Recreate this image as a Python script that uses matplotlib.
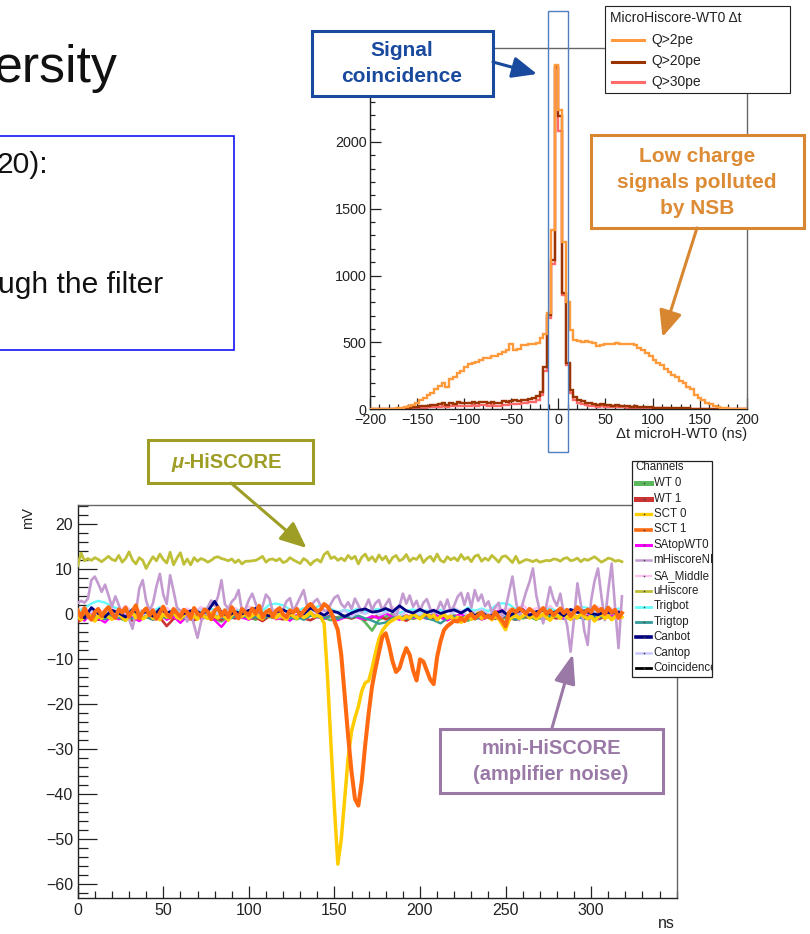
import numpy as np
import matplotlib
matplotlib.use("Agg")
import matplotlib.pyplot as plt
from matplotlib.patches import Rectangle
from matplotlib.ticker import MultipleLocator, FixedLocator, FuncFormatter

plt.rcParams['font.family'] = ['Liberation Sans', 'DejaVu Sans']
plt.rcParams['axes.unicode_minus'] = True

# ---------------------------------------------------------------------------
# Time difference histogram (4 ns bins from -200 to 200 ns)
# ---------------------------------------------------------------------------
dt_edges = np.arange(-200, 201, 4)

q2pe_counts = [0, 0, 0, 0, 0, 2, 4, 6, 10, 15,
               22, 35, 50, 68, 88, 110, 125, 150, 175, 198,
               165, 225, 245, 268, 290, 320, 340, 348, 352, 368,
               380, 385, 396, 402, 415, 425, 445, 488, 445, 448,
               478, 482, 490, 492, 495, 530,
               560, 720, 1340, 2577, 2240, 1250, 800, 590,
               520, 510, 505, 512, 505, 498, 470, 478, 490, 492,
               488, 495, 490, 485, 492, 488, 478, 460, 440, 418,
               395, 365, 350, 330, 300, 282, 255, 240, 215, 200,
               170, 150, 108, 88, 68, 50, 40, 28, 18, 12,
               8, 5, 3, 2, 1, 0]

q20pe_counts = [0, 0, 0, 0, 0, 0, 2, 3, 5, 8,
                10, 14, 18, 22, 25, 28, 32, 30, 38, 45,
                35, 48, 40, 52, 45, 50, 48, 55, 50, 52,
                58, 50, 55, 48, 45, 60, 55, 65, 70, 62,
                72, 70, 78, 85, 100, 130,
                317, 704, 1115, 2565, 2190, 870, 345, 142,
                95, 70, 60, 50, 45, 40, 35, 38, 30, 32,
                28, 30, 25, 26, 22, 20, 22, 18, 16, 15,
                14, 12, 12, 10, 10, 9, 8, 8, 7, 6,
                6, 5, 4, 4, 3, 3, 2, 2, 2, 1,
                1, 1, 0, 0, 0, 0]

q30pe_counts = [0, 0, 0, 0, 0, 0, 1, 2, 3, 4,
                5, 7, 9, 11, 13, 15, 17, 16, 20, 24,
                18, 26, 22, 28, 24, 27, 26, 30, 28, 30,
                32, 28, 30, 27, 26, 34, 32, 38, 42, 38,
                45, 46, 52, 58, 72, 105,
                290, 680, 1085, 2550, 2080, 855, 330, 120,
                70, 48, 40, 32, 28, 24, 20, 22, 18, 18,
                16, 17, 14, 14, 12, 11, 12, 10, 9, 8,
                8, 7, 7, 6, 6, 5, 5, 4, 4, 3,
                3, 3, 2, 2, 2, 2, 1, 1, 1, 1,
                0, 0, 0, 0, 0, 0]

hist_labels = ['Q>2pe', 'Q>20pe', 'Q>30pe']
hist_colors = ['#ff9a3c', '#993300', '#ff6b6b']
count_ticks = [0, 500, 1000, 1500, 2000, 2500]

# ---------------------------------------------------------------------------
# Waveforms (mV), 2 ns and 4 ns sampling
# ---------------------------------------------------------------------------
t_fine = np.arange(0, 320, 2)
t_coarse = np.arange(0, 320, 4)

uhiscore_mv = [10.8, 13.6, 11.9, 12.4, 12.0, 12.6, 12.2, 11.7, 12.3, 12.9,
               12.2, 11.9, 13.1, 11.6, 12.4, 13.9, 12.1, 11.2, 12.6, 12.0,
               10.2, 11.6, 12.8, 11.9, 13.4, 12.2, 11.4, 13.8, 11.0, 12.5,
               13.7, 11.1, 12.3, 11.0, 12.6, 11.8, 12.4, 12.1, 11.6, 12.0,
               12.6, 12.8, 12.4, 12.2, 11.9, 12.3, 11.5, 12.1, 11.2, 11.8,
               11.8, 11.9, 12.0, 12.4, 12.9, 11.6, 12.2, 12.3, 11.9, 12.4,
               11.5, 11.8, 12.6, 12.1, 11.7, 11.3, 12.4, 11.9, 11.0, 11.8,
               12.2, 11.6, 13.3, 13.9, 12.4, 12.8, 12.0, 12.5, 11.9, 13.1,
               12.3, 12.9, 11.2, 12.7, 13.4, 12.0, 12.8, 11.7, 13.2, 12.1,
               12.9, 11.4, 12.6, 13.1, 11.9, 12.3, 13.3, 11.8, 12.5, 12.2,
               13.2, 11.5, 12.4, 12.9, 11.8, 13.4, 12.0, 11.6, 12.8, 12.1,
               12.6, 11.9, 13.3, 12.2, 12.7, 11.7, 12.9, 13.2, 11.8, 12.5,
               12.0, 13.1, 12.4, 11.6, 12.8, 13.0, 12.3, 11.5, 12.9, 11.4,
               11.8, 12.2, 12.0, 11.7, 12.1, 11.6, 11.8, 12.0, 11.9, 12.3,
               12.2, 11.8, 12.4, 12.6, 11.9, 12.1, 12.5, 11.7, 12.3, 12.0,
               12.4, 12.8, 12.2, 11.6, 12.0, 12.5, 12.3, 11.8, 12.0, 11.7]

mhiscore_mv = [2.5, 3.0, 2.6, 3.5, 7.6, 8.4, 6.8, 5.0, 6.6, 4.2,
               1.7, 4.0, 2.1, -0.5, 1.2, -1.0, -3.2, 0.5, 5.8, 7.6,
               3.0, 0.8, 2.5, 6.2, 9.0, 4.4, 2.3, 8.7, 5.2, 1.5,
               0.8, 0.2, -1.6, 0.5, -2.4, -5.2, -1.8, 0.6, 1.6, 3.1,
               1.9, 4.0, 7.6, 2.3, 1.2, 2.8, 3.6, 5.4, 0.7, 1.2,
               3.2, 4.6, 2.4, 0.0, 1.8, 4.4, 3.5, 0.6, 0.3, -0.8,
               1.0, 2.9, 3.6, 0.7, 2.2, 3.8, 5.4, 2.0, 1.5, 2.8,
               3.4, 1.9, 0.8, 0.7, 2.4, 3.7, 4.2, 2.3, 1.5, 2.7,
               1.2, 3.5, 2.0, 0.6, 1.6, 3.3, 1.0, 2.5, 3.2, 0.9,
               2.2, 3.4, 0.5, -0.4, 1.8, 4.6, 2.4, 4.2, 1.7, 3.0,
               0.8, 2.6, 3.4, 1.2, -0.2, 0.9, 2.8, 1.1, 3.3, 0.6,
               2.0, 3.9, 4.8, 2.1, 4.7, 1.5, 5.4, 3.0, 4.4, 1.8,
               2.9, 0.4, 1.6, 2.6, -0.6, 1.3, 4.9, 8.4, 3.2, -1.3,
               2.4, 5.0, 7.2, 10.2, 4.1, 0.8, -2.0, 2.3, 6.1, 3.4,
               1.9, 4.6, 0.2, -2.5, -8.3, -1.0, 6.9, 2.2, -3.6, -6.8,
               3.1, 7.4, 10.2, 4.0, -1.3, 5.3, 11.3, 1.5, -7.5, 4.0]

sct0_mv = [-0.4, -1.2, -0.6, 0.3, -0.8, -1.5, -0.2, -0.9, 0.4, -0.6,
           -1.1, -0.3, 0.2, -0.7, -1.3, -0.4, 0.5, -0.8, -0.2, -1.0,
           -0.5, 0.3, -0.9, -0.3, -1.2, 0.1, -0.6, -0.4, 0.6, -0.7,
           -1.0, -0.2, 0.4, -0.8, -0.3, -1.1, 0.2, -0.5, -0.9, 0.3,
           -0.4, -0.8, 0.1, -0.6, -1.3, -0.2, 0.5, -0.7, -0.4, 0.2,
           -0.9, -0.3, 0.3, -0.6, -1.0, 0.4, -0.5, -0.2, -0.8, 0.1,
           -0.6, -1.1, 0.2, -0.4, -0.9, 0.3, -0.7, -0.3, 0.5, -0.5,
           -0.2, -0.6, -2.0, -14.0, -29.0, -43.0, -55.5, -50.0, -41.0, -32.0,
           -26.0, -23.0, -20.5, -17.0, -15.2, -14.8, -12.0, -8.5, -5.5, -3.6,
           -2.6, -1.8, -1.3, -0.9, -0.6, -1.1, -0.4, -0.8, 0.2, -0.5,
           -1.0, -0.3, 0.4, -0.7, -0.2, -1.2, -0.5, 0.1, -0.8, -0.4,
           -1.4, -0.6, -1.8, -0.9, -0.3, -1.1, -0.5, 0.3, -0.9, -0.4,
           -0.6, -1.2, -0.4, -1.0, -2.2, -3.4, -1.3, -0.6, -0.2, -0.9,
           -0.4, 0.2, -0.8, -0.3, -1.0, -0.5, 0.1, -0.7, -1.3, -0.4,
           -0.2, -0.9, 0.3, -0.6, -1.1, -0.3, -0.8, 0.2, -0.5, -1.0,
           -0.4, -1.5, -0.6, 0.2, -0.9, -0.3, -1.2, -0.5, 0.1, -0.6]

sct1_mv = [0.9, -0.6, 1.4, -0.3, -1.2, 0.5, 1.2, -0.4, 0.8, 1.6,
           0.2, -0.8, 1.1, 0.4, 1.5, -0.5, 0.7, 2.0, -0.9, 0.6,
           1.3, -0.2, 0.9, -1.0, 0.4, 1.7, 0.1, -0.7, 1.2, 0.3,
           -0.5, 1.0, 0.5, -0.8, 1.4, 0.2, -0.4, 1.1, 0.6, -1.1,
           0.8, 1.5, -0.3, 0.9, -0.6, 1.6, 0.3, -0.9, 1.2, 0.4,
           -0.2, 1.3, 0.1, 1.9, -0.7, 0.5, 1.0, -0.5, 0.8, 1.4,
           0.0, -0.6, 0.9, 0.4, 1.2, -0.3, 0.7, 1.6, 2.3, 1.5,
           0.6, 1.1, 2.3, 1.7, 0.5, -1.5, -3.5, -9.0, -18.0, -27.0,
           -35.0, -41.0, -42.5, -37.0, -29.0, -22.0, -16.0, -12.0, -8.5, -5.0,
           -4.2, -7.0, -10.5, -12.8, -12.0, -9.5, -7.5, -9.0, -12.5, -14.7,
           -10.0, -10.5, -12.5, -14.5, -15.5, -9.5, -6.0, -3.5, -2.6, -2.0,
           -1.4, -1.6, -0.8, -1.5, -0.5, 0.1, -0.9, -0.2, 0.4, -0.6,
           -0.3, -0.9, 0.5, -0.6, -1.4, -2.6, 0.4, 1.1, 0.5, 1.3,
           0.8, 0.2, 1.2, 0.6, -0.3, 0.7, 1.4, 0.1, 0.9, -0.2,
           0.6, 1.3, 0.3, 1.0, -0.4, 0.5, 1.6, 0.8, 0.2, 1.1,
           0.5, 1.8, 0.7, 1.2, 0.1, 1.5, 0.4, 1.0, -0.8, 0.3]

wt0_mv = [-0.4, -0.9, 0.3, -1.2, -0.5, 0.2, -0.8, -1.4, 0.6, -0.3,
          -0.7, 0.4, -1.1, -0.2, -0.9, 0.1, -0.6, -1.3, 0.5, -0.4,
          -1.0, -1.6, -0.3, 0.2, -0.8, -0.5, -1.2, 0.3, -0.6, -0.9,
          -0.2, -0.7, -1.1, -0.4, 0.2, -0.5, -0.8, -1.3, -0.6, -0.3,
          -0.9, -0.4, -1.8, -3.6, -1.2, -0.5, 0.1, -0.7, -0.3, -1.0,
          -0.6, 0.2, -0.9, -0.4, -1.1, -0.2, -0.7, -1.4, -0.5, 0.3,
          -0.8, -0.3, -1.0, -0.6, -0.2, -0.9, -0.5, -1.2, 0.1, -0.7,
          -0.4, -1.0, -0.3, -0.8, -0.5, 0.2, -1.1, -0.6, -0.3, -0.8]

wt1_mv = [-1.6, -0.9, -0.4, -1.2, -0.7, -0.3, -1.0, -0.6, -1.4, -0.8,
          -0.5, -1.1, -0.7, -2.6, -1.0, -0.4, -0.9, -1.3, -0.6, -0.2,
          -0.8, -1.2, -0.5, -0.9, -0.3, -1.0, -0.7, -1.5, -0.4, -0.8,
          -1.1, -0.6, -0.3, -0.9, -1.3, -0.5, -0.8, -0.2, -1.0, -0.6,
          -0.9, -0.4, -1.2, -0.7, -0.3, -1.1, -0.6, -0.9, -1.4, -0.5,
          -0.8, -0.2, -1.0, -0.6, -1.3, -0.4, -0.9, -0.7, -0.3, -1.1,
          -0.6, -1.0, -0.4, -0.8, -1.2, -0.5, -0.7, -0.3, -1.0, -0.6,
          -0.9, -0.4, -1.1, -0.7, -0.2, -0.8, -1.0, -0.5, -0.7, -0.6]

satop_mv = [-0.6, -1.4, 0.3, -0.9, -1.8, -0.2, -1.1, 0.4, -0.7, -1.5,
            -0.3, -0.8, 0.2, -1.2, -0.5, -1.9, -0.4, 0.5, -1.0, -0.6,
            -1.3, -2.8, -0.9, 0.1, -0.7, -1.2, -0.3, -0.8, 0.3, -1.1,
            -0.5, -1.4, -0.2, -0.9, 0.4, -0.6, -1.0, -0.3, -1.3, -0.7,
            0.2, -0.8, -1.1, -0.4, -0.9, 0.3, -0.6, -1.2, -0.2, -0.8,
            -0.4, -1.0, 0.2, -0.7, -1.3, -0.5, 0.1, -0.9, -0.3, -1.1,
            -0.6, 0.6, 1.0, -0.4, 0.8, 1.2, -0.2, 0.5, -0.8, 0.9,
            -0.3, -0.9, 0.4, -0.6, 0.7, -0.4, -1.0, 0.3, -0.5, 0.2]

samiddle_mv = [0.8, 1.6, 0.4, 1.1, 0.2, 1.4, 0.7, 1.9, 0.5, 1.0,
               0.3, 1.2, 0.6, 1.5, 0.1, 0.9, 1.3, 0.4, 1.7, 0.6,
               1.1, 0.2, 0.8, 1.4, 0.5, 1.8, 0.7, 1.0, 0.3, 1.2,
               0.9, 0.4, 1.5, 0.6, 1.1, 0.2, 0.8, 1.3, 0.5, 1.0,
               0.7, 1.4, 0.3, 0.9, 1.2, 0.6, 1.6, 0.4, 1.0, 0.8,
               1.3, 0.5, 1.1, 0.2, 0.9, 1.5, 0.6, 1.2, 0.4, 1.0,
               0.7, 1.8, 0.5, 1.3, 0.9, 2.2, 0.6, 1.4, 0.8, 1.9,
               0.4, 1.2, 0.7, 1.6, 0.5, 1.1, 1.7, 0.6, 1.3, 0.9]

trigbot_mv = [0.6, 1.4, 2.4, 3.0, 2.6, 1.8, 1.2, 0.5, 1.0, 0.4,
              1.3, 0.7, 1.6, 0.3, 1.1, 0.8, 0.2, 1.2, 0.6, 1.5,
              0.9, 0.4, 1.3, 0.7, 1.0, 0.3, 1.4, 0.8, 2.2, 2.4,
              2.0, 1.1, 0.6, 1.4, 0.9, 1.7, 2.3, 1.2, 0.5, 1.0,
              0.7, 1.3, 0.4, 0.9, 1.2, 0.6, 1.0, 0.3, 0.8, 1.1,
              0.5, 0.9, 0.2, 1.0, 0.6, 1.2, 0.4, 1.5, 0.8, 1.3,
              0.7, 1.9, 2.5, 2.2, 1.1, 0.6, 1.0, 0.4, 0.9, 1.3,
              0.7, 1.1, 0.5, 1.4, 1.6, 1.2, 0.8, 1.0, 0.6, 1.3]

trigtop_mv = [-0.4, -0.9, -0.2, -0.7, -1.1, -0.3, -0.8, -0.5, -1.0, -0.2,
              -0.6, -1.2, -0.4, -0.8, -0.1, -0.7, -1.0, -0.3, -0.6, -0.9,
              -0.2, -0.7, -1.1, -0.5, -0.3, -0.8, -0.6, -1.0, -0.4, -0.7,
              -0.2, -0.9, -0.5, -1.2, -0.3, -0.6, -0.8, -0.4, -1.0, -0.5,
              -0.7, -0.3, -0.9, -1.4, -2.1, -1.8, -0.8, -0.4, -1.0, -0.6,
              -0.3, -0.9, -1.3, -2.0, -0.9, -0.5, -0.8, -0.3, -1.1, -0.6,
              -0.4, -0.9, -0.2, -0.7, -1.2, -0.5, -0.3, -0.8, -1.0, -0.4,
              -0.6, -0.2, -0.9, -0.5, -1.1, -0.3, -0.7, -0.4, -0.8, -0.5]

canbot_mv = [0.4, -0.8, 1.5, 0.2, -0.5, 0.9, 0.3, -0.6, 1.1, 0.0,
             0.6, -0.4, 1.2, 0.3, 0.8, -0.2, 0.5, 1.0, 0.2, 0.7,
             2.9, 0.4, -0.3, 0.6, 0.1, 0.9, 1.3, 0.2, -0.4, 0.5,
             1.0, 0.3, 0.7, 0.1, 1.4, 0.6, -0.2, 0.8, 0.4, -0.5,
             0.3, 0.9, 1.2, 0.5, 0.7, 1.3, 0.6, 1.9, 0.8, 0.3,
             1.1, 0.4, 0.9, 0.2, 0.7, 1.0, 0.3, 1.2, -0.3, 0.5,
             -0.6, 0.2, 0.8, -0.4, 0.5, 1.0, -0.2, 0.6, 0.9, 0.1,
             0.7, -0.3, 1.1, 0.4, 0.8, 0.2, -0.1, 0.6, 0.3, 0.5]

cantop_mv = [0.2, -0.6, 0.9, -0.2, 0.5, 1.1, -0.4, 0.3, 0.8, -0.7,
             0.4, 1.0, -0.3, 0.6, 0.1, -0.8, 0.7, 0.3, 1.2, -0.1,
             0.5, -0.5, 0.9, 0.2, -0.4, 0.6, 1.1, -0.2, 0.4, 0.8,
             -0.6, 0.3, 0.7, -0.1, 1.0, 0.4, -0.3, 0.6, 0.2, 0.9,
             -0.5, 0.5, 0.1, 0.8, -0.2, 0.4, 1.0, -0.4, 0.7, 0.3,
             -0.1, 0.6, 0.9, 0.2, -0.5, 0.5, 0.8, -0.3, 0.4, 1.1,
             0.0, 0.7, -0.4, 0.6, 0.3, 0.9, -0.2, 0.5, 1.0, 0.1,
             0.6, -0.3, 0.8, 0.4, -0.1, 0.7, 0.2, 0.9, 0.3, 0.5]

channel_names = ['WT 0', 'WT 1', 'SCT 0', 'SCT 1', 'SAtopWT0', 'mHiscoreNI',
                 'SA_Middle', 'uHiscore', 'Trigbot', 'Trigtop', 'Canbot',
                 'Cantop', 'Coincidence']
channel_colors = ['#5cb85c', '#cc3333', '#ffcc00', '#ff6a10', '#ff00ff', '#c39bd0',
                  '#ffc0f2', '#bfbf38', '#66ffff', '#339999', '#000080',
                  '#c8c8ff', '#000000']

# ---------------------------------------------------------------------------
W, H = 810, 934
fig = plt.figure(figsize=(W / 100, H / 100), dpi=100)


def rect(l, t, r, b):
    return [l / W, 1 - b / H, (r - l) / W, (b - t) / H]


def style_frame(ax):
    for side in ('left', 'bottom'):
        ax.spines[side].set_color('#222222')
        ax.spines[side].set_linewidth(1.0)
    for side in ('top', 'right'):
        ax.spines[side].set_color('#666666')
        ax.spines[side].set_linewidth(1.0)


# --- histogram panel --------------------------------------------------------
axh = fig.add_axes(rect(370, 48.3, 746.7, 409.3))
hist_series = [q30pe_counts, q20pe_counts, q2pe_counts]
hist_cols = [hist_colors[2], hist_colors[1], hist_colors[0]]
for z, (vals, col) in enumerate(zip(hist_series, hist_cols)):
    axh.stairs(vals, dt_edges, color=col, lw=1.7, zorder=2 + z)
axh.set_xlim(-200, 200)
axh.set_ylim(0, 2700)
axh.xaxis.set_major_locator(MultipleLocator(50))
axh.xaxis.set_minor_locator(MultipleLocator(10))
axh.yaxis.set_major_locator(FixedLocator(count_ticks))
axh.yaxis.set_major_formatter(FuncFormatter(lambda v, p: '' if v > 2000 else f'{v:.0f}'))
axh.yaxis.set_minor_locator(MultipleLocator(100))
axh.tick_params(which='both', direction='in', top=False, right=False,
                width=0.9, labelsize=10.4, colors='#222222')
axh.tick_params(which='major', length=7.9)
axh.tick_params(which='minor', length=3.8)
axh.tick_params(axis='y', pad=2.4)
axh.tick_params(axis='x', pad=3.0)
style_frame(axh)

# --- waveform panel ---------------------------------------------------------
axw = fig.add_axes(rect(77.7, 505, 676.7, 898.3))
coarse = {'WT 0': wt0_mv, 'WT 1': wt1_mv, 'SAtopWT0': satop_mv,
          'SA_Middle': samiddle_mv, 'Trigbot': trigbot_mv, 'Trigtop': trigtop_mv,
          'Cantop': cantop_mv, 'Canbot': canbot_mv}
fine = {'mHiscoreNI': mhiscore_mv, 'uHiscore': uhiscore_mv,
        'SCT 0': sct0_mv, 'SCT 1': sct1_mv}
cmap = dict(zip(channel_names, channel_colors))
draw_order = [('WT 0', 1.9), ('WT 1', 1.9), ('SAtopWT0', 1.7), ('SA_Middle', 1.6),
              ('Trigbot', 1.7), ('Trigtop', 1.7), ('Cantop', 1.7),
              ('mHiscoreNI', 1.9), ('uHiscore', 2.0), ('SCT 0', 2.5),
              ('Canbot', 2.0), ('SCT 1', 2.9)]
for z, (name, lw) in enumerate(draw_order):
    if name in fine:
        axw.plot(t_fine, fine[name], color=cmap[name], lw=lw, zorder=2 + z)
    else:
        axw.plot(t_coarse, coarse[name], color=cmap[name], lw=lw, zorder=2 + z)
axw.set_xlim(0, 350)
axw.set_ylim(-63.1, 24.3)
axw.xaxis.set_major_locator(FixedLocator(list(range(0, 301, 50))))
axw.xaxis.set_minor_locator(MultipleLocator(10))
axw.yaxis.set_major_locator(MultipleLocator(10))
axw.yaxis.set_minor_locator(MultipleLocator(2))
axw.tick_params(which='both', direction='in', top=False, right=False,
                width=0.9, labelsize=11.5, colors='#222222')
axw.tick_params(axis='y', which='major', length=13.7, pad=3.4)
axw.tick_params(axis='y', which='minor', length=7.2)
axw.tick_params(axis='x', which='major', length=8.6, pad=3.4)
axw.tick_params(axis='x', which='minor', length=5.0)
style_frame(axw)

# --- overlay for slide text, callouts and legends ----------------------------
ov = fig.add_axes([0, 0, 1, 1], zorder=10)
ov.set_xlim(0, W)
ov.set_ylim(H, 0)
ov.axis('off')
ov.patch.set_alpha(0)

# slide title and text box
ov.text(-6, 82, 'ersity', fontsize=37.4, va='baseline', ha='left', color='#111111')
ov.add_patch(Rectangle((-5, 135.5), 238.5, 214, fill=False, ec='#1414f0', lw=1.2))
ov.text(-3, 173, '20):', fontsize=21.6, va='baseline', ha='left', color='#111111')
ov.text(-2, 293, 'ugh the filter', fontsize=21.6, va='baseline', ha='left', color='#111111')

# axis titles
ov.text(746.7, 434, 'Δt microH-WT0 (ns)', fontsize=10.6, ha='right', va='center',
        color='#222222')
ov.text(28, 518, 'mV', fontsize=10.5, rotation=90, ha='center', va='center',
        color='#222222')
ov.text(675, 924, 'ns', fontsize=11.5, ha='right', va='center', color='#222222')

# histogram legend
ov.add_patch(Rectangle((604.5, 6), 185, 86.7, fc='white', ec='#222222', lw=0.8))
ov.text(610, 18.5, 'MicroHiscore-WT0 Δt', fontsize=10, va='center', color='#222222')
for lab, col, y in zip(hist_labels, hist_colors, [40, 61.5, 82]):
    ov.plot([612, 644], [y, y], color=col, lw=2.2)
    ov.text(651, y, lab, fontsize=10, va='center', color='#222222')

# channel legend
ov.add_patch(Rectangle((632, 461), 80, 216, fc='white', ec='#222222', lw=0.9))
clip = Rectangle((632, 455), 80, 230, transform=ov.transData)
t = ov.text(635, 467, 'Channels', fontsize=8.3, va='center', color='#222222', clip_on=True)
t.set_clip_path(clip)
legend_lw = [3.6, 3.6, 2.4, 2.6, 2.2, 1.8, 1.6, 2.0, 2.0, 2.0, 2.6, 1.8, 2.0]
for i, (name, col) in enumerate(zip(channel_names, channel_colors)):
    y = 483.3 + i * 15.4
    ov.plot([636, 651], [y, y], color=col, lw=legend_lw[i])
    ov.plot([643.5], [y], marker='o', ms=1.2, color='#444444', mew=0)
    t = ov.text(653.5, y, name, fontsize=8.3, va='center', color='#222222', clip_on=True)
    t.set_clip_path(clip)

# callout: signal coincidence
blue = '#1a4a9e'
ov.add_patch(Rectangle((311.5, 30.5), 181.5, 65.5, fc='white', ec=blue, lw=2.2))
ov.text(402, 50, 'Signal', fontsize=15, fontweight='bold', color=blue,
        ha='center', va='center')
ov.text(402, 76, 'coincidence', fontsize=15, fontweight='bold', color=blue,
        ha='center', va='center')
ov.annotate('', xy=(537, 74), xytext=(493, 62),
            arrowprops=dict(arrowstyle='-|>,head_length=1.5,head_width=0.65',
                            mutation_scale=10, lw=2.2, color=blue,
                            shrinkA=0, shrinkB=0))
ov.add_patch(Rectangle((548, 11), 20, 441, fill=False, ec='#4f7fbf', lw=1.0))

# callout: low charge signals
orange = '#d8862f'
ov.add_patch(Rectangle((590.5, 134.5), 213, 93.5, fc='white', ec=orange, lw=2.2))
for txt, y in zip(['Low charge', 'signals polluted', 'by NSB'], [156, 182, 208]):
    ov.text(697, y, txt, fontsize=15, fontweight='bold', color='#dd8b35',
            ha='center', va='center')
ov.annotate('', xy=(662.5, 337), xytext=(697, 228),
            arrowprops=dict(arrowstyle='-|>,head_length=1.6,head_width=0.7',
                            mutation_scale=10, lw=2.2, color=orange,
                            shrinkA=0, shrinkB=0))

# callout: mu-HiSCORE
olive = '#9e9e27'
ov.add_patch(Rectangle((147.5, 439.5), 165.5, 43, fc='white', ec=olive, lw=2.2))
ov.text(183.5, 462, 'μ', fontsize=14.5, fontweight='bold', fontstyle='italic',
        color=olive, ha='right', va='center')
ov.text(183.5, 462, '-HiSCORE', fontsize=14.5, fontweight='bold', color=olive,
        ha='left', va='center')
ov.annotate('', xy=(306.5, 548), xytext=(231, 483),
            arrowprops=dict(arrowstyle='-|>,head_length=1.6,head_width=0.7',
                            mutation_scale=10, lw=2.2, color=olive,
                            shrinkA=0, shrinkB=0))

# callout: mini-HiSCORE
purple = '#9a79a6'
ov.add_patch(Rectangle((439.5, 728.5), 223, 64.5, fc='white', ec=purple, lw=2.2))
ov.text(551, 748.5, 'mini-HiSCORE', fontsize=14.5, fontweight='bold', color=purple,
        ha='center', va='center')
ov.text(551, 775, '(amplifier noise)', fontsize=14.5, fontweight='bold', color=purple,
        ha='center', va='center')
ov.annotate('', xy=(573, 654), xytext=(552, 728),
            arrowprops=dict(arrowstyle='-|>,head_length=1.8,head_width=0.65',
                            mutation_scale=10, lw=2.2, color=purple,
                            shrinkA=0, shrinkB=0))

fig.savefig('out.png', dpi=100)
